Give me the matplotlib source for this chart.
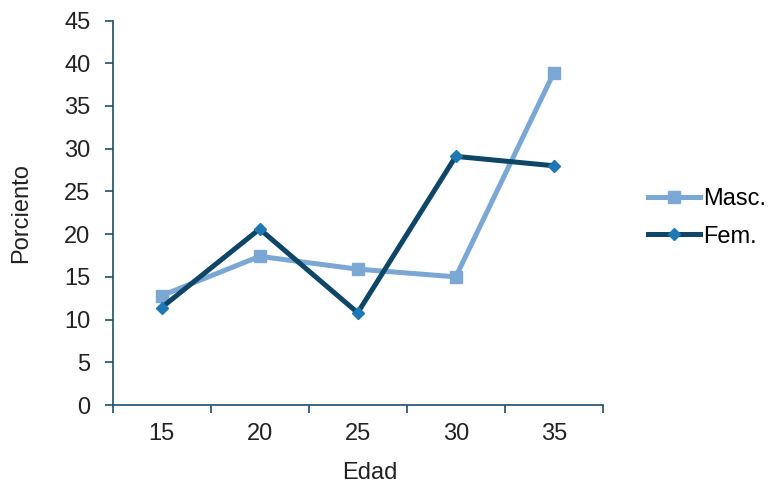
import matplotlib
matplotlib.use("Agg")
import matplotlib.pyplot as plt
import numpy as np

categories = ["15", "20", "25", "30", "35"]
masc = [12.8, 17.4, 15.9, 15.0, 38.9]
fem = [11.4, 20.6, 10.8, 29.1, 28.0]

plt.rcParams['font.family'] = ['Liberation Sans', 'DejaVu Sans']
spine_c = '#1F4E6B'
txt_c = '#222222'
fs = 17
fig = plt.figure(figsize=(7.69, 4.84), dpi=100)
ax = fig.add_axes([0.1463, 0.1632, 0.784 - 0.1463, 0.9576 - 0.1632])
x = np.arange(len(categories))
ax.plot(x, masc, color='#7BA7D4', lw=3.6, marker='s', ms=8, label='Masc.')
ax.plot(x, fem, color='#0D4666', lw=3.6, marker='D', ms=6.5, mfc='#1F77B4', mec='#1F77B4', label='Fem.')
ax.set_xlim(-0.5, len(categories) - 0.5)
ax.set_ylim(0, 45)
ax.set_yticks(range(0, 46, 5))
ax.set_xticks(np.arange(-0.5, len(categories), 1.0), minor=False)
ax.set_xticklabels([])
ax.set_xticks(x, minor=True)
ax.set_xticklabels(categories, minor=True)
ax.tick_params(axis='x', which='major', length=6, width=1.2, color=spine_c, direction='out')
ax.tick_params(axis='x', which='minor', length=0, pad=13, labelsize=fs, labelcolor=txt_c)
ax.tick_params(axis='y', length=6, width=1.2, color=spine_c, direction='out', labelsize=fs, labelcolor=txt_c, pad=10)
for s in ['top', 'right']:
    ax.spines[s].set_visible(False)
for s in ['left', 'bottom']:
    ax.spines[s].set_color(spine_c)
    ax.spines[s].set_linewidth(1.2)
ax.set_xlabel('Edad', fontsize=fs, color=txt_c)
ax.xaxis.set_label_coords(0.525, -0.148)
ax.set_ylabel('Porciento', fontsize=fs, color=txt_c)
ax.yaxis.set_label_coords(-0.164, 0.5)
leg = fig.legend(*ax.get_legend_handles_labels(), loc='center left', bbox_to_anchor=(0.8427, 0.5496),
                 frameon=False, fontsize=fs, borderpad=0, borderaxespad=0,
                 handlelength=2.2, handletextpad=0.15, labelspacing=0.65)
fig.savefig('out.png', dpi=100)
